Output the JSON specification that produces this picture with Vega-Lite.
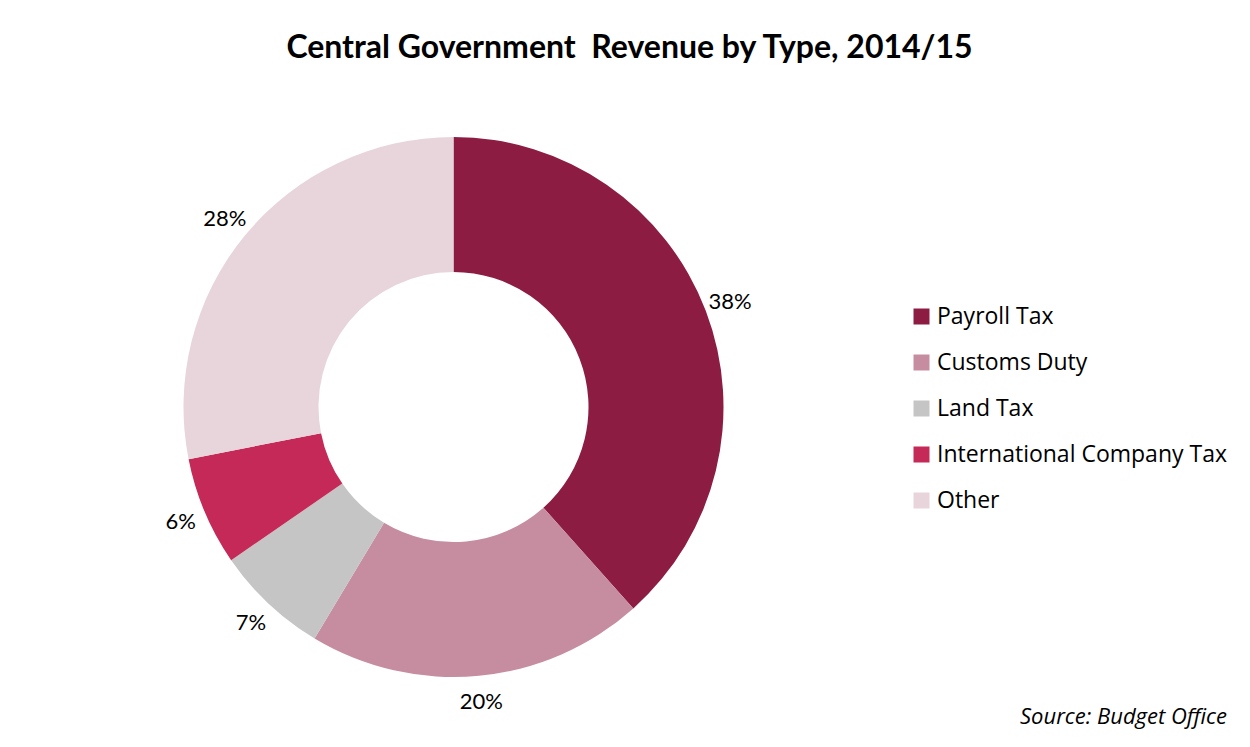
{
  "$schema": "https://vega.github.io/schema/vega-lite/v6.json",
  "autosize": {"type": "none"},
  "padding": {"left": 8, "top": 100, "right": 351, "bottom": 33},
  "width": 891,
  "height": 614,
  "background": "white",
  "title": {
    "text": "Central Government\u00a0 Revenue by Type, 2014/15",
    "font": "Lato",
    "fontSize": 32,
    "fontWeight": "bold",
    "color": "black",
    "anchor": "middle",
    "dx": 176,
    "offset": 35,
    "limit": 1200
  },
  "data": {
    "values": [
      {"type": "Payroll Tax", "value": 38.4, "label": "38%"},
      {"type": "Customs Duty", "value": 20.2, "label": "20%"},
      {"type": "Land Tax", "value": 6.8, "label": "7%"},
      {"type": "International Company Tax", "value": 6.5, "label": "6%"},
      {"type": "Other", "value": 28.1, "label": "28%"}
    ]
  },
  "transform": [{"window": [{"op": "row_number", "as": "rank"}]}],
  "encoding": {
    "theta": {"field": "value", "type": "quantitative", "stack": true},
    "order": {"field": "rank", "type": "quantitative"}
  },
  "layer": [
    {
      "mark": {"type": "arc", "outerRadius": 270, "innerRadius": 135},
      "encoding": {
        "color": {
          "field": "type",
          "type": "nominal",
          "sort": ["Payroll Tax", "Customs Duty", "Land Tax", "International Company Tax", "Other"],
          "scale": {
            "domain": ["Payroll Tax", "Customs Duty", "Land Tax", "International Company Tax", "Other"],
            "range": ["#8C1C41", "#C68C9F", "#C5C5C5", "#C42957", "#E8D4DB"]
          },
          "legend": {
            "orient": "none",
            "legendX": 902,
            "legendY": 205,
            "title": "Source: Budget Office",
            "titleOrient": "bottom",
            "titleAnchor": "end",
            "titleAlign": "right",
            "titlePadding": 194,
            "titleFont": "Open Sans",
            "titleFontStyle": "italic",
            "titleFontWeight": "normal",
            "titleFontSize": 22,
            "titleColor": "black",
            "titleLimit": 500,
            "labelFont": "Open Sans",
            "labelFontSize": 23,
            "labelColor": "black",
            "labelLimit": 500,
            "labelOffset": 4,
            "symbolType": "square",
            "symbolSize": 256,
            "symbolStrokeWidth": 0,
            "symbolOpacity": 1,
            "rowPadding": 22,
            "padding": 0
          }
        }
      }
    },
    {
      "mark": {"type": "text", "radius": 296, "font": "Lato", "fontSize": 22, "fill": "black"},
      "encoding": {"text": {"field": "label", "type": "nominal"}}
    }
  ],
  "config": {"view": {"stroke": null}}
}
